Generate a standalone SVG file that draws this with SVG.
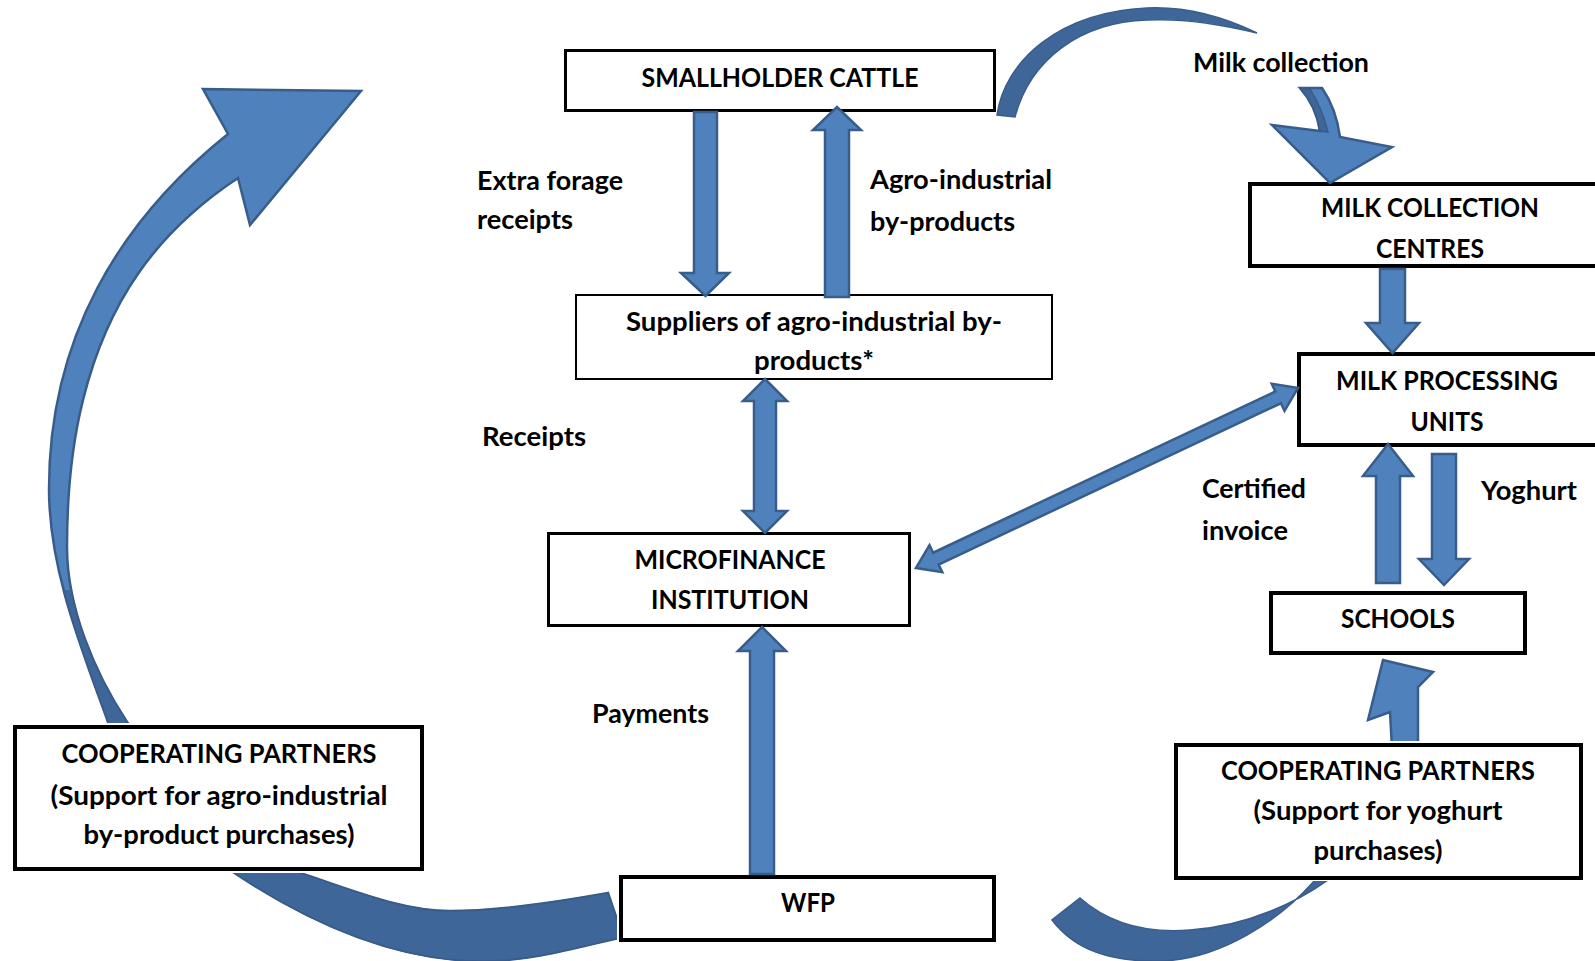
<svg xmlns="http://www.w3.org/2000/svg" width="1595" height="961" viewBox="0 0 1595 961">
<style>
.box{fill:#ffffff;stroke:#000000}
.t{font-family:Lato,"Open Sans","Liberation Sans",sans-serif;font-weight:700;font-size:26px;fill:#000000}
.m{text-anchor:middle}
.arr{fill:#4f81bd;stroke:#385d8a;stroke-width:2.5;stroke-linejoin:miter}
.dark{fill:#3f6698;stroke:#385d8a;stroke-width:1.5}
</style>
<defs>
<clipPath id="clipOut">
<path clip-rule="evenodd" d="M-10,-10H1610V980H-10Z M11,723H426V873H11Z M617,873H998V944H617Z M1172,741H1585V881H1172Z"/>
</clipPath>
<clipPath id="lowerLeft">
<rect x="0" y="590" width="700" height="380"/>
</clipPath>
</defs>
<rect width="1595" height="961" fill="#ffffff"/>

<g id="n-smallholder"><rect class="box" x="565.5" y="50.5" width="429" height="60" stroke-width="3"/>
<text class="t m" x="780" y="87" textLength="277" lengthAdjust="spacingAndGlyphs">SMALLHOLDER CATTLE</text></g>

<g id="n-suppliers"><rect class="box" x="576" y="295" width="476" height="84" stroke-width="2"/>
<text class="t m" x="814" y="331" textLength="376" lengthAdjust="spacingAndGlyphs">Suppliers of agro-industrial by-</text>
<text class="t m" x="814" y="370" textLength="120" lengthAdjust="spacingAndGlyphs">products*</text></g>

<g id="n-microfinance"><rect class="box" x="548.5" y="533.5" width="361" height="92" stroke-width="3"/>
<text class="t m" x="730" y="569" textLength="191" lengthAdjust="spacingAndGlyphs">MICROFINANCE</text>
<text class="t m" x="730" y="609" textLength="158" lengthAdjust="spacingAndGlyphs">INSTITUTION</text></g>

<g id="n-wfp"><rect class="box" x="621" y="877" width="373" height="63" stroke-width="4"/>
<text class="t m" x="808" y="912" textLength="54" lengthAdjust="spacingAndGlyphs">WFP</text></g>

<g id="n-coop-left"><rect class="box" x="15" y="727" width="407" height="142" stroke-width="4"/>
<text class="t m" x="219" y="763" textLength="315" lengthAdjust="spacingAndGlyphs">COOPERATING PARTNERS</text>
<text class="t m" x="219" y="805" textLength="337" lengthAdjust="spacingAndGlyphs">(Support for agro-industrial</text>
<text class="t m" x="219" y="844" textLength="271" lengthAdjust="spacingAndGlyphs">by-product purchases)</text></g>

<g id="n-coop-right"><rect class="box" x="1176" y="745" width="405" height="133" stroke-width="4"/>
<text class="t m" x="1378" y="780" textLength="314" lengthAdjust="spacingAndGlyphs">COOPERATING PARTNERS</text>
<text class="t m" x="1378" y="820" textLength="249" lengthAdjust="spacingAndGlyphs">(Support for yoghurt</text>
<text class="t m" x="1378" y="860" textLength="129" lengthAdjust="spacingAndGlyphs">purchases)</text></g>

<g id="n-mcc"><rect class="box" x="1250" y="184" width="360" height="82" stroke-width="4"/>
<text class="t m" x="1430" y="217" textLength="218" lengthAdjust="spacingAndGlyphs">MILK COLLECTION</text>
<text class="t m" x="1430" y="258" textLength="108" lengthAdjust="spacingAndGlyphs">CENTRES</text></g>

<g id="n-mpu"><rect class="box" x="1299" y="354" width="311" height="91" stroke-width="4"/>
<text class="t m" x="1447" y="390" textLength="222" lengthAdjust="spacingAndGlyphs">MILK PROCESSING</text>
<text class="t m" x="1447" y="431" textLength="73" lengthAdjust="spacingAndGlyphs">UNITS</text></g>

<g id="n-schools"><rect class="box" x="1271" y="593" width="254" height="60" stroke-width="4"/>
<text class="t m" x="1398" y="628" textLength="114" lengthAdjust="spacingAndGlyphs">SCHOOLS</text></g>

<g id="connectors">
<g clip-path="url(#clipOut)">
<path id="c-coop-left" class="arr" d="M228,134 C118,222 49,339 49,489 C49,569 81,647 108,722 C128,778 183,838 233,872 C308,922 393,961 483,961 C533,961 578,947 623,937 L608,893 C558,902 500,911 450,911 C400,911 347,888 297,872 C231,850 160,772 127,722 C94,672 67,607 67,547 C67,497 71,448 83,400 C107,303 155,233 238,178 L250,225 L361,91 L203,89 Z"/>
<path class="dark" clip-path="url(#lowerLeft)" d="M228,134 C118,222 49,339 49,489 C49,569 81,647 108,722 C128,778 183,838 233,872 C308,922 393,961 483,961 C533,961 578,947 623,937 L608,893 C558,902 500,911 450,911 C400,911 347,888 297,872 C231,850 160,772 127,722 C94,672 67,607 67,547 C67,497 71,448 83,400 C107,303 155,233 238,178 L250,225 L361,91 L203,89 Z"/>
<path id="c-coop-right" class="dark" d="M1052,920 C1075,950 1110,962 1160,961 C1220,960 1280,920 1315,880 L1330,860 L1340,862 L1328,880 C1300,900 1250,926 1190,930 C1140,934 1105,920 1080,898 Z"/>
<polygon class="arr" points="1392,748 1390,712 1368,720 1383,660 1433,672 1418,687 1418,748"/>
</g>
<path id="c-milk-arc" class="dark" d="M997,115 C1005,60 1060,12 1147,8 C1190,6 1230,20 1257,33 C1220,24 1185,18 1147,20 C1080,22 1030,60 1015,117 Z"/>
<path id="c-milk-head" class="arr" d="M1300,88 L1322,88 Q1336,108 1340,137 L1392,147 L1330,183 L1272,125 L1320,131 Q1316,106 1300,88 Z"/>
<path class="dark" stroke="none" d="M1301,89 L1310,89 Q1322,108 1328,132 L1320,131 Q1316,106 1301,89 Z"/>
<polygon id="c-forage" class="arr" points="694,112 717,112 717,273 729,273 705.5,296 681,273 694,273"/>
<polygon id="c-byproducts" class="arr" points="825,297 849,297 849,130 861,130 837,107 813,130 825,130"/>
<polygon id="c-receipts" class="arr" points="765,379 787,401 776,401 776,511 787,511 765,533 743,511 754,511 754,401 743,401"/>
<polygon id="c-payments" class="arr" points="750,874 774,874 774,651 786,651 762,627 738,651 750,651"/>
<polygon id="c-mcc-mpu" class="arr" points="1380,269 1405,269 1405,323 1419,323 1392.5,353 1366,323 1380,323"/>
<polygon id="c-invoice" class="arr" points="1376,583 1400,583 1400,476 1413,476 1388,444 1363,476 1376,476"/>
<polygon id="c-yoghurt" class="arr" points="1432,454 1456,454 1456,559 1469,559 1444,585 1419,559 1432,559"/>
<polygon id="c-diag" class="arr" transform="translate(916,568) rotate(-25.23)" points="0,0 22,-15 22,-6.5 400.3,-6.5 400.3,-15 422.3,0 400.3,15 400.3,6.5 22,6.5 22,15"/>
</g>

<g id="labels">
<text class="t" x="477" y="190" textLength="146" lengthAdjust="spacingAndGlyphs">Extra forage</text>
<text class="t" x="477" y="229" textLength="96" lengthAdjust="spacingAndGlyphs">receipts</text>
<text class="t" x="870" y="189" textLength="182" lengthAdjust="spacingAndGlyphs">Agro-industrial</text>
<text class="t" x="870" y="231" textLength="145" lengthAdjust="spacingAndGlyphs">by-products</text>
<text class="t" x="482" y="446" textLength="104" lengthAdjust="spacingAndGlyphs">Receipts</text>
<text class="t" x="592" y="723" textLength="117" lengthAdjust="spacingAndGlyphs">Payments</text>
<text class="t" x="1193" y="72" textLength="176" lengthAdjust="spacingAndGlyphs">Milk collection</text>
<text class="t" x="1202" y="498" textLength="104" lengthAdjust="spacingAndGlyphs">Certified</text>
<text class="t" x="1202" y="540" textLength="86" lengthAdjust="spacingAndGlyphs">invoice</text>
<text class="t" x="1481" y="500" textLength="96" lengthAdjust="spacingAndGlyphs">Yoghurt</text>
</g>
</svg>
